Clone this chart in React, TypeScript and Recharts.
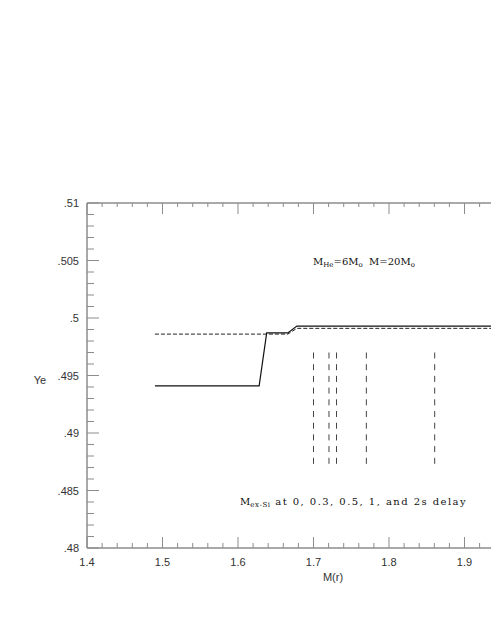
import React from "react";
import { ComposedChart, Line, XAxis, YAxis } from "recharts";

// Ye profiles vs enclosed mass M(r)
const solidMass = [1.49, 1.628, 1.638, 1.666, 1.678, 1.9351];
const solidYe = [0.4941, 0.4941, 0.4987, 0.4987, 0.4993, 0.4993];
const dashedMass = [1.49, 1.666, 1.678, 1.9351];
const dashedYe = [0.4986, 0.4986, 0.4991, 0.4991];

// M_ex-Si positions for 0, 0.3, 0.5, 1, and 2 s delay
const exSiMass = [1.7, 1.7205, 1.7305, 1.77, 1.8605];
const exSiYeTop = 0.497;
const exSiYeBottom = 0.487;

const xTicks = [1.4, 1.42, 1.44, 1.46, 1.48, 1.5, 1.52, 1.54, 1.56, 1.58, 1.6, 1.62, 1.64, 1.66, 1.68, 1.7, 1.72, 1.74, 1.76, 1.78, 1.8, 1.82, 1.84, 1.86, 1.88, 1.9, 1.92];
const xMajor = [1.4, 1.5, 1.6, 1.7, 1.8, 1.9];
const yTicks = [0.48, 0.481, 0.482, 0.483, 0.484, 0.485, 0.486, 0.487, 0.488, 0.489, 0.49, 0.491, 0.492, 0.493, 0.494, 0.495, 0.496, 0.497, 0.498, 0.499, 0.5, 0.501, 0.502, 0.503, 0.504, 0.505, 0.506, 0.507, 0.508, 0.509, 0.51];
const yMajor = [0.48, 0.485, 0.49, 0.495, 0.5, 0.505, 0.51];
const yLabels = [".48", ".485", ".49", ".495", ".5", ".505", ".51"];

const solidData = solidMass.map((m, i) => ({ m, ye: solidYe[i] }));
const dashedData = dashedMass.map((m, i) => ({ m, ye: dashedYe[i] }));
const exSiData = exSiMass.map((m) => [
  { m, ye: exSiYeTop },
  { m, ye: exSiYeBottom },
]);

const AXIS = "#8c8c8c";
const LABEL = "#333";
const SANS = "'Liberation Sans', Arial, sans-serif";
const SERIF = "'DejaVu Serif', serif";

const isMajor = (v: number, list: number[]) => list.some((t) => Math.abs(t - v) < 1e-9);

const BottomTick = (props: any) => {
  const { x, y, payload } = props;
  const major = isMajor(payload.value, xMajor);
  return (
    <g>
      <line x1={x} x2={x} y1={y} y2={y - (major ? 11 : 5)} stroke={AXIS} strokeWidth={1} />
      {major && (
        <text x={x} y={y + 18} textAnchor="middle" fontFamily={SANS} fontSize={11} fill={LABEL}>
          {payload.value.toFixed(1)}
        </text>
      )}
    </g>
  );
};

const TopTick = (props: any) => {
  const { x, y, payload } = props;
  const major = isMajor(payload.value, xMajor);
  return <line x1={x} x2={x} y1={y} y2={y + (major ? 11 : 4)} stroke={AXIS} strokeWidth={1} />;
};

const LeftTick = (props: any) => {
  const { x, y, payload } = props;
  const idx = yMajor.findIndex((t) => Math.abs(t - payload.value) < 1e-9);
  const major = idx >= 0;
  return (
    <g>
      <line x1={x} x2={x + (major ? 12 : 7)} y1={y} y2={y} stroke={AXIS} strokeWidth={1} />
      {major && (
        <text x={x - 8} y={y + 4} textAnchor="end" fontFamily={SANS} fontSize={11} fill={LABEL}>
          {yLabels[idx]}
        </text>
      )}
    </g>
  );
};

export default function App() {
  return (
    <div style={{ position: "absolute", left: 0, top: 0 }}>
      <ComposedChart
        width={491}
        height={635}
        margin={{ top: 193, right: 0, bottom: 67, left: 57 }}
      >
        <XAxis
          xAxisId="b"
          dataKey="m"
          type="number"
          orientation="bottom"
          domain={[1.4, 1.9351]}
          allowDataOverflow
          ticks={xTicks}
          interval={0}
          height={20}
          tickSize={0}
          tickMargin={0}
          tickLine={false}
          axisLine={{ stroke: AXIS, strokeWidth: 1.5 }}
          tick={<BottomTick />}
        />
        <XAxis
          xAxisId="t"
          dataKey="m"
          type="number"
          orientation="top"
          domain={[1.4, 1.9351]}
          allowDataOverflow
          ticks={xTicks}
          interval={0}
          height={10}
          tickSize={0}
          tickMargin={0}
          tickLine={false}
          axisLine={{ stroke: AXIS, strokeWidth: 1.5 }}
          tick={<TopTick />}
        />
        <YAxis
          yAxisId="l"
          dataKey="ye"
          type="number"
          domain={[0.48, 0.51]}
          allowDataOverflow
          ticks={yTicks}
          interval={0}
          width={30}
          tickSize={0}
          tickMargin={0}
          tickLine={false}
          axisLine={{ stroke: AXIS, strokeWidth: 1.5 }}
          tick={<LeftTick />}
        />
        {exSiData.map((d, i) => (
          <Line
            key={"ex" + i}
            xAxisId="b"
            yAxisId="l"
            data={d}
            dataKey="ye"
            stroke="#444"
            strokeWidth={1}
            strokeDasharray="6 5.7"
            dot={false}
            activeDot={false}
            isAnimationActive={false}
          />
        ))}
        <Line
          xAxisId="b"
          yAxisId="l"
          data={dashedData}
          dataKey="ye"
          stroke="#222"
          strokeWidth={1}
          strokeDasharray="4 2"
          dot={false}
          activeDot={false}
          isAnimationActive={false}
        />
        <Line
          xAxisId="b"
          yAxisId="l"
          data={solidData}
          dataKey="ye"
          stroke="#111"
          strokeWidth={1.2}
          dot={false}
          activeDot={false}
          isAnimationActive={false}
        />
        <text x={40} y={384} textAnchor="middle" fontFamily={SANS} fontSize={11} fill={LABEL}>
          Ye
        </text>
        <text x={333} y={581} textAnchor="middle" fontFamily={SANS} fontSize={11} fill={LABEL}>
          M(r)
        </text>
        <text x={313} y={265} fontFamily={SERIF} fontSize={10} fill="#111">
          M<tspan fontSize={7} dy={2}>He</tspan>
          <tspan dy={-2}>=6M</tspan>
          <tspan fontSize={7} dy={2}>o</tspan>
          <tspan dy={-2}>{"\u00a0\u00a0M=20M"}</tspan>
          <tspan fontSize={7} dy={2}>o</tspan>
        </text>
        <text x={240} y={505} fontFamily={SERIF} fontSize={10} fill="#111">
          M<tspan fontSize={7} dy={2} letterSpacing={0.6}>ex-Si</tspan>
          <tspan dy={-2} letterSpacing={1.45}>{" at 0, 0.3, 0.5, 1, and 2s delay"}</tspan>
        </text>
      </ComposedChart>
    </div>
  );
}
